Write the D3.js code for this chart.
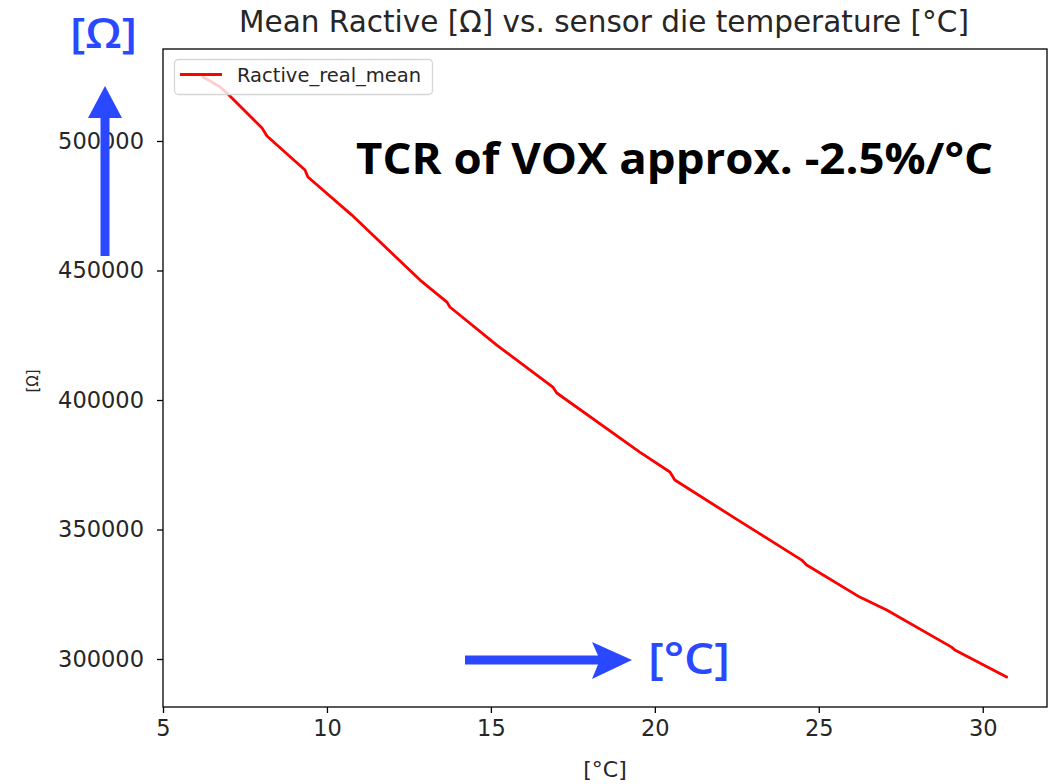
<!DOCTYPE html>
<html>
<head>
<meta charset="utf-8">
<script src="https://cdn.jsdelivr.net/npm/d3@7"></script>
<style>
    body { margin: 0; background: #fff; }
    svg { display: block; }
    .tick text { font-family: "DejaVu Sans", sans-serif; fill: #262626; }
</style>
</head>
<body>
<div class="mainview"></div>
<script>

// Data ////////////////////////////

const temperature = [6.22, 6.74, 6.95, 8.02, 8.17, 9.33, 9.42, 10.76, 12.84, 13.66, 13.75, 15.18,
    16.89, 17.01, 19.54, 20.46, 20.61, 22.44, 24.48, 24.63, 26.25, 27.07, 29.05, 29.15, 30.73];
const rActive = [524700, 520900, 518500, 505000, 501900, 488800, 486100, 471400, 446300, 437800,
    435900, 421200, 405000, 402700, 379900, 372200, 369100, 354400, 338200, 336300, 323900,
    318900, 304600, 303500, 293050];

const xTicks = [5, 10, 15, 20, 25, 30];
const yTicks = [300000, 350000, 400000, 450000, 500000];
const xLimits = [5, 31.96];
const yLimits = [281470, 535520];

const title = "Mean Ractive [Ω] vs. sensor die temperature [°C]";
const seriesName = "Ractive_real_mean";
const note = "TCR of VOX approx. -2.5%/°C";

// Layout ///////////////////////////////////////////////

const dim = { width: 1050, height: 784 };
const plot = { left: 163, right: 1047, top: 49, bottom: 707 };
const blue = "#2a48ff";

const svg = d3.select(".mainview").append("svg")
    .attr("width", dim.width)
    .attr("height", dim.height);

const x = d3.scaleLinear().domain(xLimits).range([plot.left, plot.right]);
const y = d3.scaleLinear().domain(yLimits).range([plot.bottom, plot.top]);

// axes

const xAxis = d3.axisBottom(x)
    .tickValues(xTicks)
    .tickFormat(d3.format("d"))
    .tickSize(6)
    .tickPadding(7);

svg.append("g")
    .attr("transform", `translate(0, ${ plot.bottom })`)
    .call(xAxis)
    .call(g => g.select(".domain").remove())
    .call(g => g.selectAll("line").attr("stroke", "#000").attr("stroke-width", 1.3))
    .call(g => g.selectAll("text").style("font-size", "22.5px"));

const yAxis = d3.axisLeft(y)
    .tickValues(yTicks)
    .tickFormat(d3.format("d"))
    .tickSize(6)
    .tickPadding(13);

svg.append("g")
    .attr("transform", `translate(${ plot.left }, 0)`)
    .call(yAxis)
    .call(g => g.select(".domain").remove())
    .call(g => g.selectAll("line").attr("stroke", "#000").attr("stroke-width", 1.3))
    .call(g => g.selectAll("text").style("font-size", "22.5px"));

// line

svg.append("defs").append("clipPath")
    .attr("id", "clip")
    .append("rect")
    .attr("x", plot.left).attr("y", plot.top)
    .attr("width", plot.right - plot.left)
    .attr("height", plot.bottom - plot.top);

const line = d3.line()
    .x((d, i) => x(temperature[i]))
    .y(d => y(d));

svg.append("path")
    .attr("clip-path", "url(#clip)")
    .attr("d", line(rActive))
    .attr("fill", "none")
    .attr("stroke", "#ff0000")
    .attr("stroke-width", 2.8)
    .attr("stroke-linejoin", "round")
    .attr("stroke-linecap", "round");

// frame

svg.append("rect")
    .attr("x", plot.left).attr("y", plot.top)
    .attr("width", plot.right - plot.left)
    .attr("height", plot.bottom - plot.top)
    .attr("fill", "none")
    .attr("stroke", "#000")
    .attr("stroke-width", 1.3);

// legend

const legend = svg.append("g");
legend.append("rect")
    .attr("x", 174.5).attr("y", 59.5)
    .attr("width", 258).attr("height", 35)
    .attr("rx", 4)
    .attr("fill", "#fff")
    .attr("fill-opacity", 0.8)
    .attr("stroke", "#d6d6d6")
    .attr("stroke-width", 1.3);
legend.append("line")
    .attr("x1", 180).attr("x2", 222)
    .attr("y1", 74.5).attr("y2", 74.5)
    .attr("stroke", "#ff0000")
    .attr("stroke-width", 2.8);
legend.append("text")
    .attr("x", 237).attr("y", 81.5)
    .style("font-family", "DejaVu Sans, sans-serif")
    .style("font-size", "19.5px")
    .style("fill", "#262626")
    .text(seriesName);

// titles

svg.append("text")
    .attr("x", 604)
    .attr("y", 32)
    .attr("text-anchor", "middle")
    .style("font-family", "DejaVu Sans, sans-serif")
    .style("font-size", "29.5px")
    .style("fill", "#262626")
    .text(title);

svg.append("text")
    .attr("x", (plot.left + plot.right) / 2)
    .attr("y", 777)
    .attr("text-anchor", "middle")
    .style("font-family", "DejaVu Sans, sans-serif")
    .style("font-size", "22px")
    .style("fill", "#262626")
    .text("[°C]");

svg.append("text")
    .attr("transform", "translate(38, 381) rotate(-90)")
    .attr("text-anchor", "middle")
    .style("font-family", "DejaVu Sans, sans-serif")
    .style("font-size", "15px")
    .style("fill", "#262626")
    .text("[Ω]");

// annotations

svg.append("text")
    .attr("x", 356).attr("y", 174)
    .attr("textLength", 637)
    .attr("lengthAdjust", "spacingAndGlyphs")
    .style("font-family", "Open Sans, Noto Sans, sans-serif")
    .style("font-weight", 700)
    .style("font-size", "43px")
    .style("fill", "#000")
    .text(note);

svg.append("text")
    .attr("x", 70).attr("y", 48)
    .attr("textLength", 67)
    .attr("lengthAdjust", "spacingAndGlyphs")
    .style("font-family", "Open Sans, Noto Sans, sans-serif")
    .style("font-weight", 600)
    .style("font-size", "42px")
    .style("fill", blue)
    .text("[Ω]");

svg.append("text")
    .attr("x", 648).attr("y", 674)
    .attr("textLength", 82)
    .attr("lengthAdjust", "spacingAndGlyphs")
    .style("font-family", "Open Sans, Noto Sans, sans-serif")
    .style("font-weight", 600)
    .style("font-size", "44px")
    .style("fill", blue)
    .text("[°C]");

// arrows

svg.append("path")
    .attr("d", "M100.5,256 V118 H88 L105,86 L122,118 H109.5 V256 Z")
    .attr("fill", blue);

svg.append("path")
    .attr("d", "M465,655.5 H598 L592,642 L632,660 L592,679 L598,664.5 H465 Z")
    .attr("fill", blue);

</script>
</body>
</html>
